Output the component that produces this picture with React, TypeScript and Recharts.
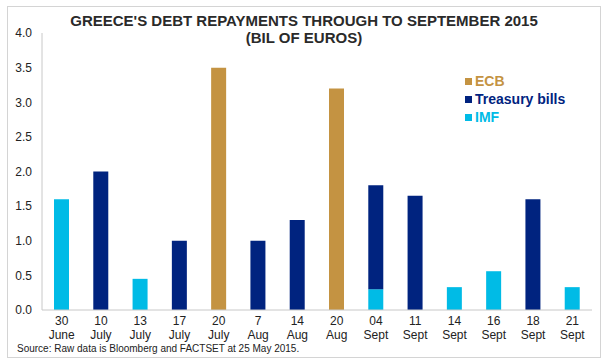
import { BarChart, Bar, XAxis, YAxis } from "recharts";

const DAYS = ["30", "10", "13", "17", "20", "7", "14", "20", "04", "11", "14", "16", "18", "21"];
const MONTHS = ["June", "July", "July", "July", "July", "Aug", "Aug", "Aug", "Sept", "Sept", "Sept", "Sept", "Sept", "Sept"];
const IMF = [1.6, 0, 0.45, 0, 0, 0, 0, 0, 0.3, 0, 0.33, 0.56, 0, 0.33];
const TBILLS = [0, 2.0, 0, 1.0, 0, 1.0, 1.3, 0, 1.5, 1.65, 0, 0, 1.6, 0];
const ECB = [0, 0, 0, 0, 3.5, 0, 0, 3.2, 0, 0, 0, 0, 0, 0];
const Y_TICKS = [0, 0.5, 1, 1.5, 2, 2.5, 3, 3.5, 4];

const COLORS = { ecb: "#c49342", tbills: "#00237f", imf: "#00bbe6" };
const FONT = "'Liberation Sans', Arial, sans-serif";

const data = DAYS.map((d, i) => ({
  key: `${d} ${MONTHS[i]}`,
  day: d,
  month: MONTHS[i],
  imf: IMF[i],
  tbills: TBILLS[i],
  ecb: ECB[i],
}));

function DateTick({ x, y, index }: any) {
  return (
    <g transform={`translate(${x},${y})`}>
      <text textAnchor="middle" fontSize={12} fill="#222" fontFamily={FONT}>
        <tspan x={0} dy={15}>{DAYS[index]}</tspan>
        <tspan x={0} dy={14}>{MONTHS[index]}</tspan>
      </text>
    </g>
  );
}

function LegendBox() {
  const items = [
    { label: "ECB", color: COLORS.ecb },
    { label: "Treasury bills", color: COLORS.tbills },
    { label: "IMF", color: COLORS.imf },
  ];
  return (
    <div
      style={{
        position: "absolute",
        left: 465,
        top: 72,
        fontFamily: FONT,
        fontWeight: 700,
        fontSize: 14,
        lineHeight: "18px",
      }}
    >
      {items.map((it) => (
        <div key={it.label} style={{ color: it.color, display: "flex", alignItems: "center" }}>
          <span style={{ width: 7, height: 7, background: it.color, marginRight: 3, display: "inline-block" }} />
          {it.label}
        </div>
      ))}
    </div>
  );
}

export default function App() {
  return (
    <div style={{ position: "absolute", left: 0, top: 0, width: 603, height: 364, background: "#fff" }}>
      <div
        style={{
          position: "absolute",
          left: 7,
          top: 6,
          width: 594,
          height: 352,
          border: "1px solid #d4d4d4",
          boxSizing: "border-box",
        }}
      />
      <div
        style={{
          position: "absolute",
          left: 0,
          top: 12,
          width: 608,
          textAlign: "center",
          fontFamily: FONT,
          fontWeight: 700,
          fontSize: 15,
          lineHeight: "17px",
          color: "#2a2a2a",
        }}
      >
        GREECE'S DEBT REPAYMENTS THROUGH TO SEPTEMBER 2015
        <br />
        (BIL OF EUROS)
      </div>
      <BarChart
        width={603}
        height={364}
        data={data}
        margin={{ top: 33, right: 11, left: 0, bottom: 20 }}
        barCategoryGap={0}
      >
        <XAxis
          dataKey="key"
          interval={0}
          tick={<DateTick />}
          tickLine={false}
          tickSize={0}
          tickMargin={0}
          axisLine={{ stroke: "#c8c8c8" }}
          height={34}
        />
        <YAxis
          domain={[0, 4]}
          ticks={Y_TICKS}
          tickFormatter={(v) => v.toFixed(1)}
          tickLine={false}
          tickSize={0}
          tickMargin={10}
          axisLine={{ stroke: "#c8c8c8" }}
          width={42}
          tick={{ fontSize: 12, fill: "#222", fontFamily: FONT }}
        />
        <Bar dataKey="imf" stackId="a" fill={COLORS.imf} barSize={15} isAnimationActive={false} />
        <Bar dataKey="tbills" stackId="a" fill={COLORS.tbills} barSize={15} isAnimationActive={false} />
        <Bar dataKey="ecb" stackId="a" fill={COLORS.ecb} barSize={15} isAnimationActive={false} />
      </BarChart>
      <LegendBox />
      <div
        style={{
          position: "absolute",
          left: 17,
          top: 343,
          fontFamily: FONT,
          fontSize: 10,
          color: "#222",
        }}
      >
        Source: Raw data is Bloomberg and FACTSET at 25 May 2015.
      </div>
    </div>
  );
}
